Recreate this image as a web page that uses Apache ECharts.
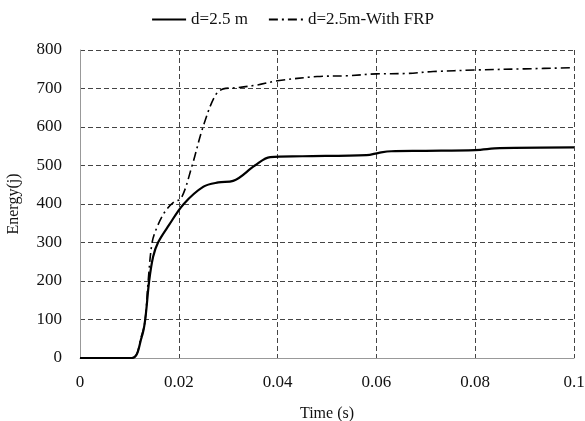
<!DOCTYPE html>
<html>
<head>
<meta charset="utf-8">
<script src="https://cdn.jsdelivr.net/npm/echarts@6/dist/echarts.min.js"></script>
<style>
  html, body { margin: 0; padding: 0; background: #fff; }
  #chart { width: 585px; height: 421px; }
</style>
</head>
<body>
<div id="chart"></div>
<script>
// d=2.5 m
const timeSolid = [0, 0.0105, 0.0125, 0.0132, 0.014, 0.0148, 0.0158, 0.018, 0.021, 0.025, 0.028, 0.031, 0.0354, 0.0385, 0.045, 0.058, 0.0605, 0.063, 0.07, 0.08, 0.085, 0.1];
const energySolid = [0, 0, 55, 100, 200, 263, 300, 345, 400, 445, 456, 460, 500, 522, 524, 527, 533, 537, 538, 540, 545, 547];
// d=2.5m-With FRP
const timeFrp = [0, 0.0105, 0.0125, 0.0132, 0.0138, 0.0146, 0.0156, 0.0172, 0.019, 0.0205, 0.0227, 0.0249, 0.0273, 0.029, 0.0317, 0.0358, 0.04, 0.048, 0.054, 0.06, 0.066, 0.0715, 0.08, 0.09, 0.1];
const energyFrp = [0, 0, 60, 100, 200, 300, 340, 380, 405, 415, 500, 600, 680, 699, 702, 709, 720, 731, 733, 738, 739, 744, 748, 751, 754];

const seriesNames = ['d=2.5 m', 'd=2.5m-With FRP'];

function pairs(xs, ys) {
  return xs.map((x, i) => [x, ys[i]]);
}

const font = 'Liberation Serif';
const chart = echarts.init(document.getElementById('chart'));

const option = {
  animation: false,
  textStyle: { fontFamily: font },
  legend: {
    top: 6,
    left: 'center',
    itemWidth: 34,
    itemHeight: 10,
    itemGap: 20,
    itemStyle: { opacity: 0 },
    textStyle: { fontFamily: font, fontSize: 17, color: '#111' },
    data: seriesNames
  },
  grid: { left: 80, right: 11, top: 50, bottom: 63, outerBoundsMode: 'none', containLabel: false },
  xAxis: {
    type: 'value',
    min: 0,
    max: 0.1,
    interval: 0.02,
    name: 'Time (s)',
    nameLocation: 'middle',
    nameGap: 48,
    nameTextStyle: { fontFamily: font, fontSize: 16, color: '#111' },
    axisLine: { lineStyle: { color: '#999', width: 1 } },
    axisTick: { show: false },
    axisLabel: {
      margin: 16,
      fontFamily: font, fontSize: 17, color: '#111',
      formatter: v => String(+v.toFixed(2))
    },
    splitLine: { show: true, lineStyle: { color: '#444', type: [5, 3], width: 1 } }
  },
  yAxis: {
    type: 'value',
    min: 0,
    max: 800,
    interval: 100,
    name: 'Energy(j)',
    nameLocation: 'middle',
    nameGap: 58,
    nameTextStyle: { fontFamily: font, fontSize: 16, color: '#111' },
    axisLine: { show: true, lineStyle: { color: '#999', width: 1 } },
    axisTick: { show: false },
    axisLabel: { margin: 18, fontFamily: font, fontSize: 17, color: '#111' },
    splitLine: { show: true, lineStyle: { color: '#444', type: [5, 3], width: 1 } }
  },
  series: [
    {
      name: seriesNames[0],
      type: 'line',
      data: pairs(timeSolid, energySolid),
      smooth: 0.35,
      symbol: 'none',
      lineStyle: { color: '#000', width: 2.2, type: 'solid' },
      itemStyle: { color: '#000' },
      z: 3
    },
    {
      name: seriesNames[1],
      type: 'line',
      data: pairs(timeFrp, energyFrp),
      smooth: 0.35,
      symbol: 'none',
      lineStyle: { color: '#000', width: 1.6, type: [9, 4, 2, 4] },
      itemStyle: { color: '#000' },
      z: 3
    }
  ]
};

chart.setOption(option);
</script>
</body>
</html>
